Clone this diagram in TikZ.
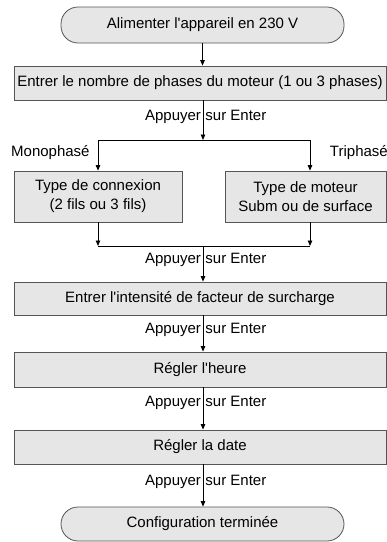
\documentclass[tikz,border=0pt]{standalone}
\usepackage{fontspec}
\setmainfont{Liberation Sans}[Ligatures=TeXOff]
\usetikzlibrary{arrows.meta,calc}
\definecolor{boxfill}{RGB}{230,230,230}
\definecolor{boxline}{RGB}{85,85,85}
\begin{document}
\begin{tikzpicture}[x=1pt,y=-1pt,
  base/.style={draw=boxline, line width=0.8pt, fill=boxfill, inner sep=0pt,
    font=\fontsize{15}{19}\selectfont, align=center},
  proc/.style={base, rectangle},
  term/.style={base, rounded corners=17pt},
  conn/.style={draw=black, line width=0.8pt},
  arr/.style={conn, -{Triangle[length=5.5pt,width=4.5pt]}},
  lbl/.style={font=\fontsize{15}{19}\selectfont, inner sep=0pt},
]
\useasboundingbox (0,0) rectangle (387,542);

% nodes
\node[term, minimum width=283pt, minimum height=36pt] (start) at (202.5,25) {Alimenter l'appareil en 230 V};
\node[proc, minimum width=372pt, minimum height=34pt] (phases) at (200,83) {Entrer le nombre de phases du moteur (1 ou 3 phases)};
\node[proc, minimum width=168pt, minimum height=51pt] (mono) at (98,196.5) {Type de connexion\\(2 fils ou 3 fils)};
\node[proc, minimum width=161pt, minimum height=51pt] (tri) at (305.5,196.5) {Type de moteur\\Subm ou de surface};
\node[proc, minimum width=372pt, minimum height=33pt] (surch) at (200,298.5) {Entrer l'intensité de facteur de surcharge};
\node[proc, minimum width=372pt, minimum height=35pt] (heure) at (200,369.5) {Régler l'heure};
\node[proc, minimum width=372pt, minimum height=34pt] (date) at (200,447) {Régler la date};
\node[term, minimum width=283pt, minimum height=34pt] (stop) at (202.5,524) {Configuration terminée};

\coordinate (split) at (203,140);
\coordinate (lft) at (98,140);
\coordinate (rgt) at (310,140);
\coordinate (lft2) at (98,246);
\coordinate (rgt2) at (310,246);
\coordinate (merge) at (203,246);

% connectors
\draw[arr] (start.south) -- (start.south |- phases.north);
\draw[arr] (split |- phases.south) -- (split);
\draw[conn] (lft) -- (rgt);
\draw[arr] (lft) -- (lft |- mono.north);
\draw[arr] (rgt) -- (rgt |- tri.north);
\draw[arr] (mono.south) -- (lft2);
\draw[arr] (rgt2 |- tri.south) -- (rgt2);
\draw[conn] (lft2) -- (rgt2);
\draw[arr] (merge) -- (merge |- surch.north);
\draw[arr] (merge |- surch.south) -- (merge |- heure.north);
\draw[arr] (merge |- heure.south) -- (merge |- date.north);
\draw[arr] (merge |- date.south) -- (merge |- stop.north);

% labels
\node[lbl] (l1) at (203,117) {\llap{Appuyer\hspace{2pt}}\rlap{\hspace{2.5pt}sur Enter}};
\node[lbl] (l2) at (203,260) {\llap{Appuyer\hspace{2pt}}\rlap{\hspace{2.5pt}sur Enter}};
\node[lbl] (l3) at (203,330) {\llap{Appuyer\hspace{2pt}}\rlap{\hspace{2.5pt}sur Enter}};
\node[lbl] (l4) at (203,403) {\llap{Appuyer\hspace{2pt}}\rlap{\hspace{2.5pt}sur Enter}};
\node[lbl] (l5) at (203,482) {\llap{Appuyer\hspace{2pt}}\rlap{\hspace{2.5pt}sur Enter}};
\node[lbl, anchor=west] (mlab) at (11,153) {Monophasé};
\node[lbl, anchor=east] (tlab) at (388,153) {Triphasé};
\end{tikzpicture}
\end{document}
